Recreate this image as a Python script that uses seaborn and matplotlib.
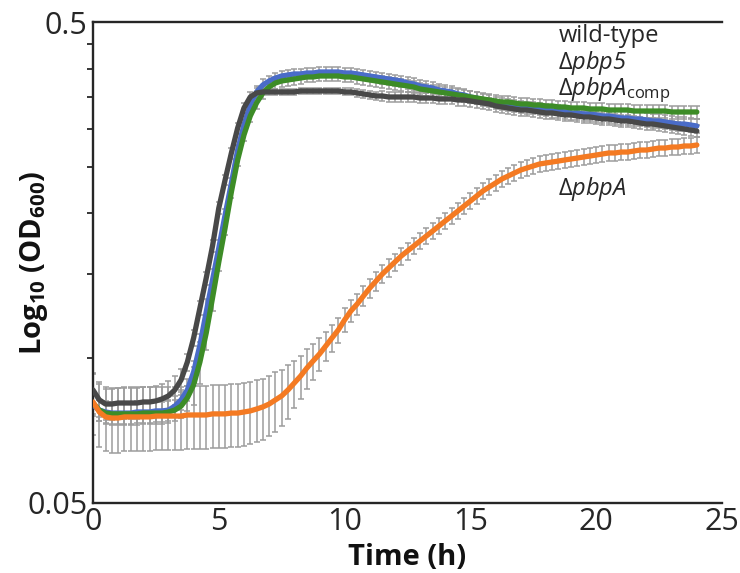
import numpy as np
import pandas as pd
import matplotlib
matplotlib.use("Agg")
import matplotlib.pyplot as plt
import matplotlib.ticker as mticker
import seaborn as sns

# ---------------- data (OD600, sampled every 0.25 h from 0 to 24 h) ----------------
step_h = 0.25

wild_type = [
    0.0859, 0.0819, 0.0803, 0.0803, 0.0807, 0.0807, 0.0807, 0.0807, 0.0811, 0.0811,
    0.0815, 0.0823, 0.0835, 0.0859, 0.0901, 0.0982, 0.1102, 0.1272, 0.1468, 0.1711,
    0.2052, 0.2347, 0.2671, 0.3010, 0.3313, 0.3492, 0.3560,
    0.3577, 0.3577, 0.3577, 0.3577, 0.3577, 0.3577,
    0.3594, 0.3594, 0.3594, 0.3594, 0.3594, 0.3594, 0.3594,
    0.3577, 0.3577, 0.3560, 0.3543, 0.3526, 0.3509, 0.3509, 0.3492, 0.3492, 0.3492,
    0.3492, 0.3492, 0.3475, 0.3475, 0.3475, 0.3459, 0.3459, 0.3459, 0.3442, 0.3442,
    0.3426, 0.3409, 0.3393, 0.3377, 0.3345, 0.3329, 0.3313, 0.3297, 0.3281, 0.3281,
    0.3265, 0.3250, 0.3235, 0.3235, 0.3219, 0.3204, 0.3204, 0.3188, 0.3173, 0.3173,
    0.3158, 0.3143, 0.3143, 0.3128, 0.3113, 0.3113, 0.3098, 0.3083, 0.3068, 0.3068,
    0.3054, 0.3039, 0.3024, 0.3010, 0.2996, 0.2981, 0.2967,
]

d_pbp5 = [
    0.0799, 0.0780, 0.0773, 0.0769, 0.0769, 0.0769, 0.0769, 0.0773, 0.0773, 0.0773,
    0.0777, 0.0777, 0.0780, 0.0795, 0.0819, 0.0859, 0.0936, 0.1065, 0.1248, 0.1454,
    0.1695, 0.1985, 0.2313, 0.2709, 0.3054, 0.3361, 0.3577, 0.3698, 0.3770, 0.3824,
    0.3861, 0.3880, 0.3899, 0.3899, 0.3917, 0.3917, 0.3936, 0.3936, 0.3936, 0.3936,
    0.3917, 0.3917, 0.3899, 0.3880, 0.3861, 0.3843, 0.3824, 0.3806, 0.3788, 0.3770,
    0.3734, 0.3716, 0.3681, 0.3663, 0.3646, 0.3611, 0.3594, 0.3577, 0.3543, 0.3526,
    0.3492, 0.3475, 0.3442, 0.3426, 0.3393, 0.3377, 0.3361, 0.3345, 0.3329, 0.3313,
    0.3313, 0.3297, 0.3281, 0.3265, 0.3265, 0.3250, 0.3235, 0.3235, 0.3219, 0.3219,
    0.3204, 0.3188, 0.3188, 0.3173, 0.3158, 0.3158, 0.3143, 0.3143, 0.3128, 0.3113,
    0.3113, 0.3098, 0.3083, 0.3068, 0.3068, 0.3054, 0.3039,
]

d_pbpA_comp = [
    0.0807, 0.0780, 0.0769, 0.0766, 0.0766, 0.0766, 0.0766, 0.0766, 0.0769, 0.0769,
    0.0769, 0.0769, 0.0773, 0.0780, 0.0795, 0.0827, 0.0880, 0.0982, 0.1128, 0.1334,
    0.1585, 0.1865, 0.2216, 0.2583, 0.2911, 0.3188, 0.3393, 0.3560, 0.3663, 0.3734,
    0.3770, 0.3788, 0.3806, 0.3824, 0.3843, 0.3843, 0.3861, 0.3861, 0.3861, 0.3861,
    0.3843, 0.3843, 0.3824, 0.3806, 0.3788, 0.3770, 0.3752, 0.3734, 0.3716, 0.3698,
    0.3681, 0.3663, 0.3628, 0.3611, 0.3594, 0.3577, 0.3560, 0.3543, 0.3526, 0.3509,
    0.3492, 0.3475, 0.3459, 0.3442, 0.3426, 0.3409, 0.3409, 0.3393, 0.3377, 0.3377,
    0.3361, 0.3361, 0.3345, 0.3345, 0.3329, 0.3329, 0.3313, 0.3313, 0.3313, 0.3297,
    0.3297, 0.3297, 0.3281, 0.3281, 0.3281, 0.3281, 0.3265, 0.3265, 0.3265, 0.3265,
    0.3265, 0.3265, 0.3250, 0.3250, 0.3250, 0.3250, 0.3250,
]

d_pbpA = [
    0.0811, 0.0773, 0.0755, 0.0751, 0.0751, 0.0755, 0.0755, 0.0755, 0.0755, 0.0755,
    0.0758, 0.0758, 0.0758, 0.0758, 0.0758, 0.0762, 0.0762, 0.0762, 0.0762, 0.0766,
    0.0766, 0.0766, 0.0769, 0.0769, 0.0773, 0.0777, 0.0784, 0.0792, 0.0803, 0.0819,
    0.0835, 0.0859, 0.0888, 0.0918, 0.0954, 0.0987, 0.1020, 0.1060, 0.1102, 0.1145,
    0.1201, 0.1254, 0.1296, 0.1347, 0.1399, 0.1447, 0.1496, 0.1540, 0.1585, 0.1631,
    0.1671, 0.1711, 0.1753, 0.1795, 0.1838, 0.1883, 0.1929, 0.1975, 0.2023, 0.2072,
    0.2122, 0.2174, 0.2227, 0.2270, 0.2313, 0.2358, 0.2392, 0.2427, 0.2462, 0.2486,
    0.2510, 0.2534, 0.2546, 0.2558, 0.2570, 0.2583, 0.2595, 0.2607, 0.2620, 0.2632,
    0.2645, 0.2658, 0.2671, 0.2671, 0.2683, 0.2683, 0.2696, 0.2709, 0.2709, 0.2722,
    0.2735, 0.2735, 0.2748, 0.2748, 0.2762, 0.2762, 0.2775,
]

# standard deviations (OD units)
wild_type_err = [
    0.0070, 0.0065, 0.0060, 0.0060, 0.0060, 0.0060, 0.0060, 0.0060, 0.0060, 0.0060,
    0.0060, 0.0060, 0.0060, 0.0060, 0.0050, 0.0040, 0.0040, 0.0040, 0.0045, 0.0050,
    0.0060, 0.0060, 0.0070, 0.0080, 0.0080, 0.0080, 0.0080,
    0.0050, 0.0050, 0.0050, 0.0050, 0.0050, 0.0050,
    0.0050, 0.0050, 0.0050, 0.0050, 0.0050, 0.0050, 0.0050,
    0.0060, 0.0060, 0.0060, 0.0060, 0.0070, 0.0070, 0.0080, 0.0080, 0.0080, 0.0080,
    0.0090, 0.0090, 0.0090, 0.0090, 0.0090, 0.0090, 0.0090, 0.0090, 0.0090, 0.0090,
    0.0090, 0.0090, 0.0090, 0.0090, 0.0090, 0.0090, 0.0090, 0.0090, 0.0090, 0.0090,
    0.0090, 0.0090, 0.0090, 0.0090, 0.0090, 0.0090, 0.0090, 0.0090, 0.0090, 0.0090,
    0.0090, 0.0090, 0.0090, 0.0090, 0.0090, 0.0090, 0.0090, 0.0090, 0.0090, 0.0090,
    0.0090, 0.0090, 0.0090, 0.0090, 0.0090, 0.0090, 0.0090,
]

d_pbp5_err = [
    0.0040, 0.0040, 0.0040, 0.0040, 0.0040, 0.0040, 0.0040, 0.0040, 0.0040, 0.0040,
    0.0040, 0.0040, 0.0040, 0.0040, 0.0040, 0.0045, 0.0050, 0.0060, 0.0080, 0.0080,
    0.0070, 0.0060, 0.0060, 0.0070, 0.0080, 0.0090, 0.0100, 0.0100, 0.0100, 0.0100,
    0.0100, 0.0100, 0.0100, 0.0100, 0.0100, 0.0100, 0.0100, 0.0100, 0.0100, 0.0100,
    0.0100, 0.0100, 0.0100, 0.0100, 0.0100, 0.0100, 0.0100, 0.0100, 0.0100, 0.0100,
    0.0100, 0.0100, 0.0100, 0.0100, 0.0100, 0.0100, 0.0100, 0.0100, 0.0100, 0.0100,
    0.0100, 0.0100, 0.0100, 0.0100, 0.0100, 0.0100, 0.0100, 0.0100, 0.0100, 0.0100,
    0.0100, 0.0100, 0.0100, 0.0100, 0.0100, 0.0100, 0.0100, 0.0100, 0.0100, 0.0100,
    0.0100, 0.0100, 0.0100, 0.0100, 0.0100, 0.0100, 0.0100, 0.0100, 0.0100, 0.0100,
    0.0100, 0.0100, 0.0100, 0.0100, 0.0100, 0.0100, 0.0100,
]

d_pbpA_comp_err = [
    0.0040, 0.0040, 0.0040, 0.0040, 0.0040, 0.0040, 0.0040, 0.0040, 0.0040, 0.0040,
    0.0040, 0.0040, 0.0040, 0.0040, 0.0045, 0.0050, 0.0080, 0.0100, 0.0090, 0.0080,
    0.0070, 0.0060, 0.0060, 0.0070, 0.0080, 0.0090, 0.0100, 0.0100, 0.0100, 0.0100,
    0.0100, 0.0100, 0.0100, 0.0100, 0.0100, 0.0100, 0.0100, 0.0100, 0.0100, 0.0100,
    0.0100, 0.0100, 0.0100, 0.0100, 0.0100, 0.0100, 0.0100, 0.0100, 0.0100, 0.0100,
    0.0100, 0.0100, 0.0100, 0.0100, 0.0100, 0.0100, 0.0100, 0.0100, 0.0100, 0.0100,
    0.0100, 0.0100, 0.0100, 0.0100, 0.0100, 0.0100, 0.0100, 0.0100, 0.0100, 0.0100,
    0.0100, 0.0100, 0.0100, 0.0100, 0.0100, 0.0100, 0.0100, 0.0100, 0.0100, 0.0100,
    0.0100, 0.0100, 0.0100, 0.0100, 0.0100, 0.0100, 0.0100, 0.0100, 0.0100, 0.0100,
    0.0100, 0.0100, 0.0100, 0.0100, 0.0100, 0.0100, 0.0100,
]

d_pbpA_err = [
    0.0120, 0.0118, 0.0115, 0.0115, 0.0115, 0.0115, 0.0115, 0.0115, 0.0115, 0.0115,
    0.0115, 0.0115, 0.0115, 0.0115, 0.0115, 0.0115, 0.0115, 0.0115, 0.0115, 0.0115,
    0.0115, 0.0115, 0.0115, 0.0115, 0.0115, 0.0115, 0.0115, 0.0115, 0.0115, 0.0115,
    0.0112, 0.0110, 0.0100, 0.0095, 0.0090, 0.0085, 0.0080, 0.0075, 0.0072, 0.0070,
    0.0068, 0.0066, 0.0065, 0.0065, 0.0065, 0.0065, 0.0065, 0.0065, 0.0065, 0.0066,
    0.0067, 0.0068, 0.0069, 0.0070, 0.0071, 0.0072, 0.0074, 0.0075, 0.0077, 0.0079,
    0.0080, 0.0082, 0.0084, 0.0086, 0.0088, 0.0090, 0.0091, 0.0092, 0.0093, 0.0094,
    0.0095, 0.0095, 0.0095, 0.0096, 0.0096, 0.0096, 0.0097, 0.0097, 0.0097, 0.0098,
    0.0098, 0.0098, 0.0099, 0.0099, 0.0099, 0.0099, 0.0100, 0.0100, 0.0100, 0.0100,
    0.0101, 0.0101, 0.0101, 0.0102, 0.0102, 0.0102, 0.0102,
]

strain_names = ["wild-type", "dpbp5", "dpbpA_comp", "dpbpA"]
strain_values = [wild_type, d_pbp5, d_pbpA_comp, d_pbpA]
strain_errors = [wild_type_err, d_pbp5_err, d_pbpA_comp_err, d_pbpA_err]
strain_colors = ["#484848", "#4a6cc8", "#3d8c27", "#f47a22"]
draw_order = ["dpbp5", "dpbpA_comp", "wild-type", "dpbpA"]

x_ticks = [0, 5, 10, 15, 20, 25]
y_tick_labels = {0.05: "0.05", 0.5: "0.5"}
y_minor_ticks = [0.1, 0.15, 0.2, 0.25, 0.3, 0.35, 0.4, 0.45]

# ---------------- build a tidy table ----------------
rows = []
for name, vals, errs in zip(strain_names, strain_values, strain_errors):
    for i, (v, e) in enumerate(zip(vals, errs)):
        rows.append({"strain": name, "time": i * step_h, "od": v, "sd": e})
df = pd.DataFrame(rows)

# ---------------- styling ----------------
sns.set_theme(style="white")
plt.rcParams["font.family"] = ["Open Sans", "DejaVu Sans"]
plt.rcParams["mathtext.fontset"] = "custom"
plt.rcParams["mathtext.rm"] = "Open Sans:italic"
plt.rcParams["mathtext.it"] = "Open Sans:italic"
plt.rcParams["mathtext.sf"] = "Open Sans"
plt.rcParams["mathtext.bf"] = "Open Sans:bold"

fig = plt.figure(figsize=(7.40, 5.73), dpi=100)
ax_left, ax_right, ax_top, ax_bottom = 93, 722, 22, 503
ax = fig.add_axes([ax_left / 740, 1 - ax_bottom / 573,
                   (ax_right - ax_left) / 740, (ax_bottom - ax_top) / 573])

ink = "#262626"

# error bars first (behind the lines)
for name in draw_order:
    sub = df[df.strain == name]
    ax.errorbar(sub.time, sub.od, yerr=sub.sd, fmt="none", ecolor="#9c9c9c",
                elinewidth=1.1, capsize=2.0, capthick=1.1, zorder=1)

palette = dict(zip(strain_names, strain_colors))
for k, name in enumerate(draw_order):
    sns.lineplot(data=df[df.strain == name], x="time", y="od", color=palette[name],
                 linewidth=3.8, ax=ax, legend=False, zorder=3 + k, errorbar=None)

ax.set_yscale("log")
ax.set_xlim(0, 25)
ax.set_ylim(0.05, 0.5)

ax.yaxis.set_major_locator(mticker.FixedLocator(list(y_tick_labels.keys())))
ax.yaxis.set_major_formatter(mticker.FixedFormatter(list(y_tick_labels.values())))
ax.yaxis.set_minor_locator(mticker.FixedLocator(y_minor_ticks))
ax.yaxis.set_minor_formatter(mticker.NullFormatter())
ax.tick_params(axis="y", which="major", length=0, pad=4, labelsize=22, colors=ink)
ax.tick_params(axis="y", which="minor", direction="out", length=4, width=1.3,
               color=ink, left=True)

ax.set_xticks(x_ticks)
ax.set_xticklabels([str(t) for t in x_ticks])
ax.tick_params(axis="x", which="major", length=0, pad=3, labelsize=22, colors=ink)

for side in ["left", "bottom", "top"]:
    ax.spines[side].set_visible(True)
    ax.spines[side].set_color(ink)
    ax.spines[side].set_linewidth(1.7)
ax.spines["right"].set_visible(False)

ax.set_xlabel("Time (h)", fontsize=21, fontweight="bold", color="#111111", labelpad=4)
ax.set_ylabel(r"Log$_{\mathbf{10}}$ (OD$_{\mathbf{600}}$)", fontsize=21,
              fontweight="bold", color="#111111")
ax.yaxis.set_label_coords(-0.068, 0.5)

# direct labels
lab_kw = dict(transform=ax.transAxes, fontsize=17, color=ink, ha="left", va="baseline")
ax.text(0.740, 0.958, "wild-type", **lab_kw)
ax.text(0.740, 0.903, r"Δ$\mathrm{pbp5}$", **lab_kw)
ax.text(0.740, 0.849, r"Δ$\mathrm{pbpA}_{\mathsf{comp}}$", **lab_kw)
ax.text(0.740, 0.640, r"Δ$\mathrm{pbpA}$", **lab_kw)

ax.grid(False)
fig.savefig("out.png", dpi=100)
